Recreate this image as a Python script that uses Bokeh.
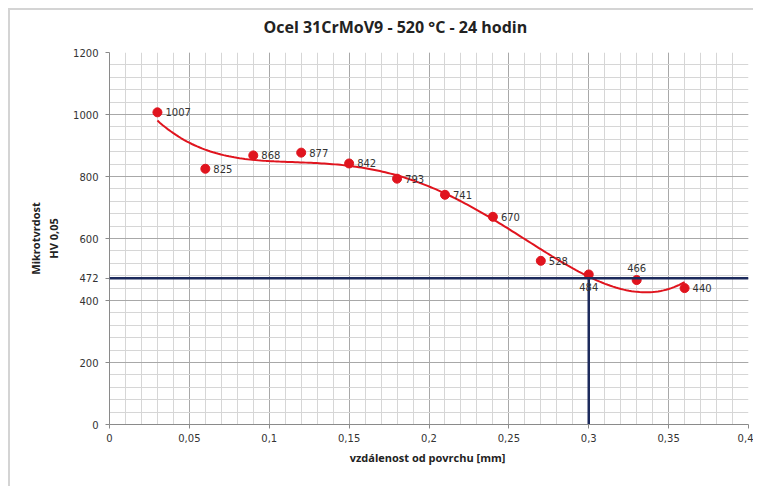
import numpy as np
from bokeh.plotting import figure
from bokeh.models import ColumnDataSource, FixedTicker, CustomJSTickFormatter, Span, Title
from bokeh.core.properties import value
from bokeh.embed import file_html
from bokeh.resources import INLINE

# data
depth = [0.03, 0.06, 0.09, 0.12, 0.15, 0.18, 0.21, 0.24, 0.27, 0.30, 0.33, 0.36]
hardness = [1007, 825, 868, 877, 842, 793, 741, 670, 528, 484, 466, 440]
limit_hv = 472
limit_depth = 0.30
x_ticks = [0, 0.05, 0.1, 0.15, 0.2, 0.25, 0.3, 0.35, 0.4]
y_ticks = [0, 200, 400, 600, 800, 1000, 1200]
trend_degree = 4  # Excel polynomial trendline order
title_text = "Ocel 31CrMoV9 - 520 °C  - 24 hodin"

p = figure(width=745, height=478, output_backend="svg", toolbar_location=None,
           x_range=(0, 0.4), y_range=(0, 1200),
           min_border_left=99, min_border_right=7, min_border_top=42, min_border_bottom=64)
p.styles = {"border-top": "2px solid #d4d4d4", "border-left": "2px solid #d4d4d4",
            "margin-left": "8px", "margin-top": "8px"}
p.outline_line_color = None

p.xaxis.ticker = FixedTicker(ticks=x_ticks, minor_ticks=[i / 100 for i in range(41)])
p.yaxis.ticker = FixedTicker(ticks=y_ticks + [limit_hv], minor_ticks=list(range(0, 1201, 40)))
p.xaxis.formatter = CustomJSTickFormatter(code="""
var s = tick.toFixed(2).replace(/0+$/, '').replace(/\\.$/, '');
return s.replace('.', ',');
""")
p.xgrid.grid_line_color = "#a8a8a8"
p.ygrid.grid_line_color = "#a8a8a8"
p.xgrid.minor_grid_line_color = "#d6d6d6"
p.ygrid.minor_grid_line_color = "#d6d6d6"
for ax in (p.xaxis, p.yaxis):
    ax.axis_line_color = "#8a8a8a"
    ax.major_tick_line_color = "#8a8a8a"
    ax.minor_tick_line_color = None
    ax.major_tick_in = 0
    ax.major_tick_out = 4
    ax.major_label_text_font = "DejaVu Sans"
    ax.major_label_text_font_size = "10px"
    ax.major_label_text_color = "#333333"
    ax.axis_label_text_font = "Open Sans"
    ax.axis_label_text_font_style = "bold"
    ax.axis_label_text_font_size = "11px"
    ax.axis_label_text_color = "#222222"
p.yaxis.major_label_standoff = 7
p.yaxis.axis_label_standoff = 9
p.xaxis.axis_label = "vzdálenost  od povrchu [mm]"
p.yaxis.axis_label = "Mikrotvrdost\nHV 0,05"

# title: a thin spacer title next to the frame, the real title above it
p.title = None
p.add_layout(Title(text=" ", text_font_size="4px", standoff=6), "above")
p.add_layout(Title(text=title_text, text_font="Open Sans", text_font_size="16px",
                   text_font_style="bold", text_color="#222222", align="left",
                   offset=154, standoff=4), "above")

# reference lines
p.add_layout(Span(location=limit_hv, dimension="width", line_color="#1c2a5c", line_width=2.5))
p.segment(x0=[limit_depth], y0=[0], x1=[limit_depth], y1=[limit_hv], line_color="#1c2a5c", line_width=2.5)

# polynomial trendline
xs = np.linspace(min(depth), max(depth), 200)
coef = np.polyfit(depth, hardness, trend_degree)
p.line(xs, np.polyval(coef, xs), line_color="#e0141e", line_width=2)

# points + labels
label_pos = ["right"] * 9 + ["below", "above", "right"]
xo = [8 if lp == "right" else 0 for lp in label_pos]
yo = [0 if lp == "right" else (13 if lp == "below" else -12) for lp in label_pos]
al = ["left" if lp == "right" else "center" for lp in label_pos]
src = ColumnDataSource(dict(x=depth, y=hardness, t=[str(v) for v in hardness], xo=xo, yo=yo, al=al))
p.scatter("x", "y", source=src, size=9, fill_color="#e0141e", line_color="#e0141e")
p.text("x", "y", text="t", source=src, x_offset="xo", y_offset="yo", text_align="al",
       text_baseline="middle", text_font=value("DejaVu Sans"), text_font_size="10px",
       text_color="#333333")

open("out.html", "w").write(file_html(p, INLINE))
